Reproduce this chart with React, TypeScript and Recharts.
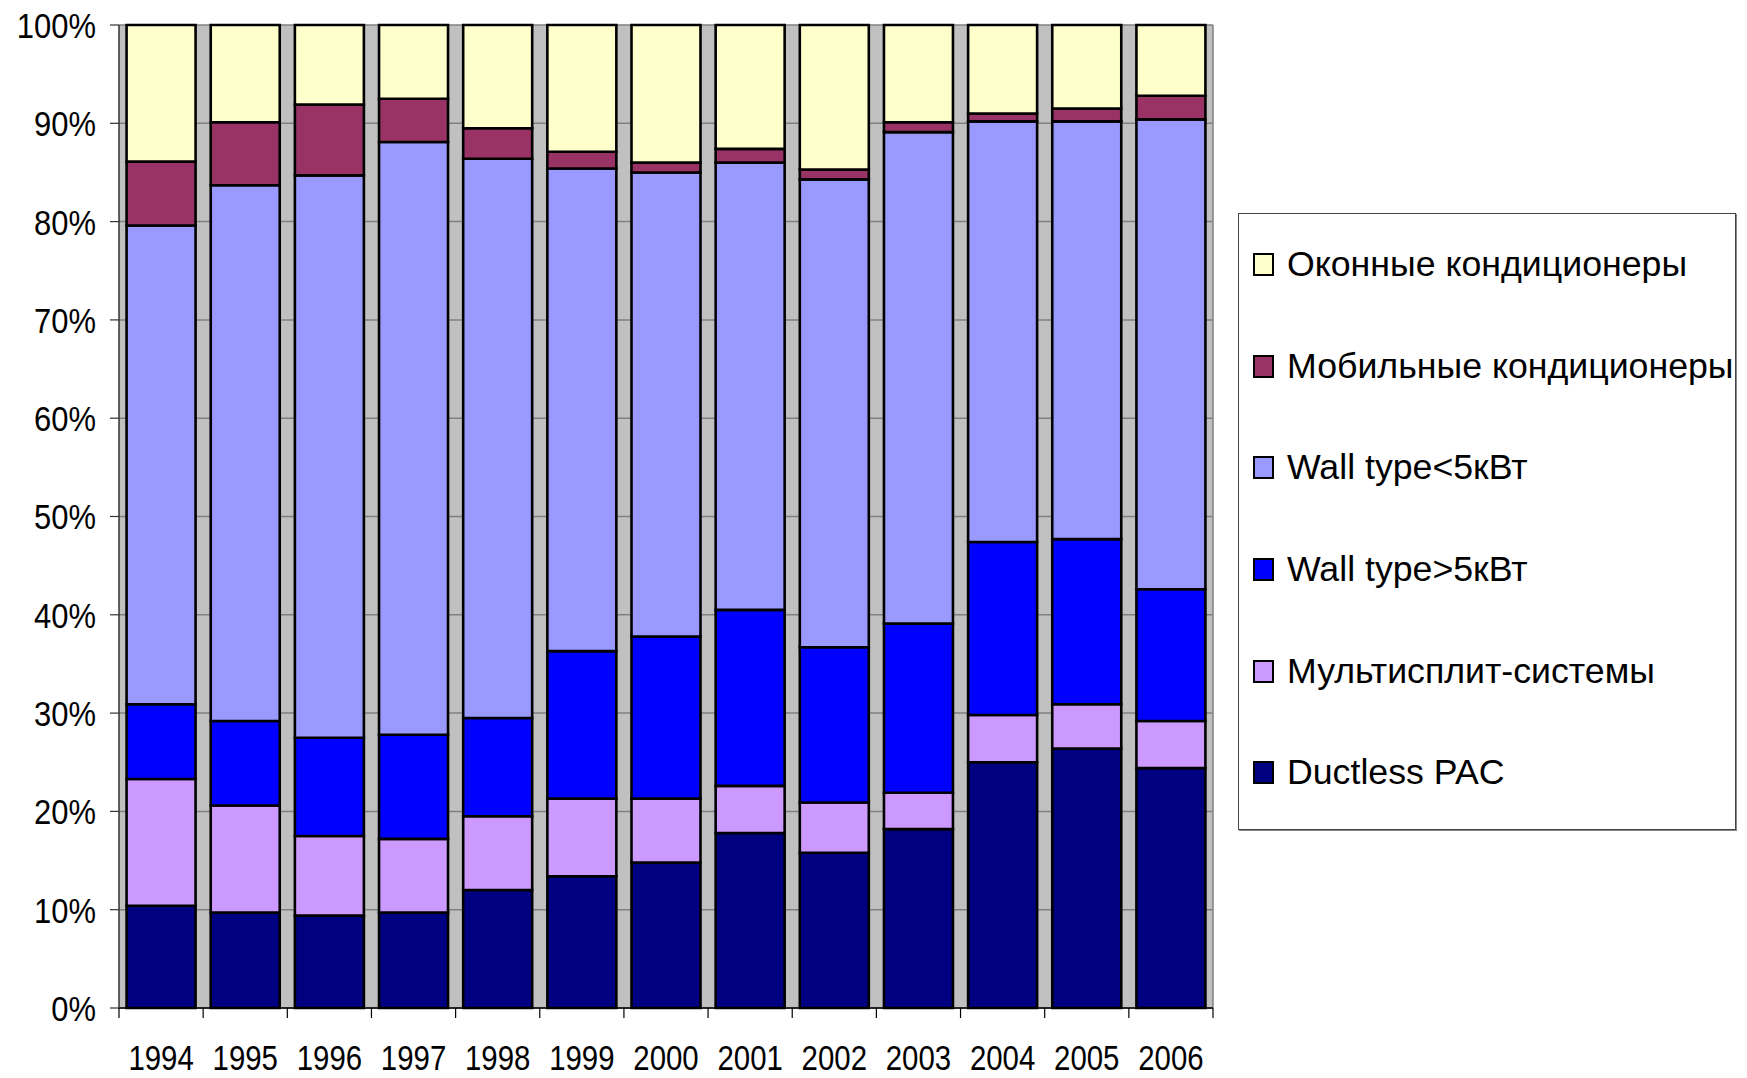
import { BarChart, Bar, XAxis, YAxis, CartesianGrid } from 'recharts'

const years = ['1994', '1995', '1996', '1997', '1998', '1999', '2000', '2001', '2002', '2003', '2004', '2005', '2006']

// shares by year, %, bottom of the stack first
const ductless = [10.4, 9.7, 9.4, 9.7, 12.0, 13.4, 14.8, 17.8, 15.8, 18.2, 25.0, 26.4, 24.4]
const multisplit = [12.9, 10.9, 8.1, 7.5, 7.5, 7.9, 6.5, 4.8, 5.1, 3.7, 4.8, 4.5, 4.8]
const wallBig = [7.6, 8.6, 10.0, 10.6, 10.0, 15.0, 16.5, 17.9, 15.8, 17.2, 17.6, 16.8, 13.4]
const wallSmall = [48.7, 54.5, 57.2, 60.3, 56.9, 49.1, 47.2, 45.5, 47.6, 50.0, 42.8, 42.5, 47.8]
const mobile = [6.5, 6.4, 7.2, 4.4, 3.1, 1.7, 1.0, 1.4, 1.0, 1.0, 0.8, 1.3, 2.4]
const windowAc = [13.9, 9.9, 8.1, 7.5, 10.5, 12.9, 14.0, 12.6, 14.7, 9.9, 9.0, 8.5, 7.2]

const yTicks = [0, 0.1, 0.2, 0.3, 0.4, 0.5, 0.6, 0.7, 0.8, 0.9, 1]

const series = [
  { key: 'ductless', name: 'Ductless PAC', color: '#000080' },
  { key: 'multisplit', name: 'Мультисплит-системы', color: '#CC99FF' },
  { key: 'wallBig', name: 'Wall type>5кВт', color: '#0000FF' },
  { key: 'wallSmall', name: 'Wall type<5кВт', color: '#9999FF' },
  { key: 'mobile', name: 'Мобильные кондиционеры', color: '#993366' },
  { key: 'windowAc', name: 'Оконные кондиционеры', color: '#FFFFCC' },
]

const data = years.map((year, i) => ({
  year,
  ductless: ductless[i],
  multisplit: multisplit[i],
  wallBig: wallBig[i],
  wallSmall: wallSmall[i],
  mobile: mobile[i],
  windowAc: windowAc[i],
}))

const W = 1747
const H = 1078
const X_AXIS_H = 70
const M = { top: 25, right: 534, bottom: 0, left: 0 }
const Y_AXIS_W = 119
const PLOT_W = W - M.right - Y_AXIS_W
const AXIS_Y = H - X_AXIS_H
const FONT = '"Liberation Sans", Arial, sans-serif'

const XTick = ({ x, payload, index }: any) => {
  const bw = PLOT_W / years.length
  return (
    <g>
      <line x1={x - bw / 2} x2={x - bw / 2} y1={AXIS_Y} y2={AXIS_Y + 10} stroke="#000" strokeWidth={1.2} />
      {index === years.length - 1 && (
        <line x1={x + bw / 2} x2={x + bw / 2} y1={AXIS_Y} y2={AXIS_Y + 10} stroke="#000" strokeWidth={1.2} />
      )}
      <text transform={`translate(${x},${AXIS_Y + 62}) scale(0.84,1)`} textAnchor="middle" fontSize={35} fontFamily={FONT} fill="#000">
        {payload.value}
      </text>
    </g>
  )
}

const YTick = ({ x, y, payload }: any) => (
  <text transform={`translate(${x},${y}) scale(0.86,1)`} textAnchor="end" dy="0.36em" fontSize={36} fontFamily={FONT} fill="#000">
    {`${Math.round(payload.value * 100)}%`}
  </text>
)

const LegendBox = () => (
  <div style={{
    position: 'absolute', left: 1238, top: 213, width: 496, height: 615,
    border: '1px solid #444', boxShadow: '1px 1px 0 #888', background: '#fff',
    fontFamily: FONT, fontSize: 35.7, color: '#000',
  }}>
    {[...series].reverse().map(s => (
      <div key={s.key} style={{ height: 101.6, display: 'flex', alignItems: 'center', paddingLeft: 14 }}>
        <span style={{ width: 17, height: 19, border: '2px solid #000', background: s.color, marginRight: 13, flex: 'none' }} />
        <span style={{ whiteSpace: 'nowrap' }}>{s.name}</span>
      </div>
    ))}
  </div>
)

export default function App() {
  return (
    <div style={{ position: 'absolute', left: 0, top: 0, width: W, height: H, background: '#fff' }}>
      <BarChart width={W} height={H} data={data} margin={M} stackOffset="expand" barCategoryGap="9%">
        <CartesianGrid
          fill="#C0C0C0"
          stroke="#808080"
          strokeWidth={1.5}
          verticalCoordinatesGenerator={({ offset }: any) => [offset.left + offset.width]}
        />
        <XAxis
          dataKey="year"
          tickLine={false}
          axisLine={{ stroke: '#000', strokeWidth: 1.5 }}
          tick={<XTick />}
          interval={0}
          height={X_AXIS_H}
        />
        <YAxis
          width={Y_AXIS_W}
          domain={[0, 1]}
          ticks={yTicks}
          tickSize={9}
          tickMargin={14}
          tickLine={{ stroke: '#333', strokeWidth: 1.2 }}
          axisLine={{ stroke: '#333', strokeWidth: 1.5 }}
          tick={<YTick />}
          interval={0}
        />
        {series.map(s => (
          <Bar key={s.key} dataKey={s.key} name={s.name} stackId="a" fill={s.color} stroke="#000" strokeWidth={2.6} isAnimationActive={false} />
        ))}
      </BarChart>
      <LegendBox />
    </div>
  )
}
